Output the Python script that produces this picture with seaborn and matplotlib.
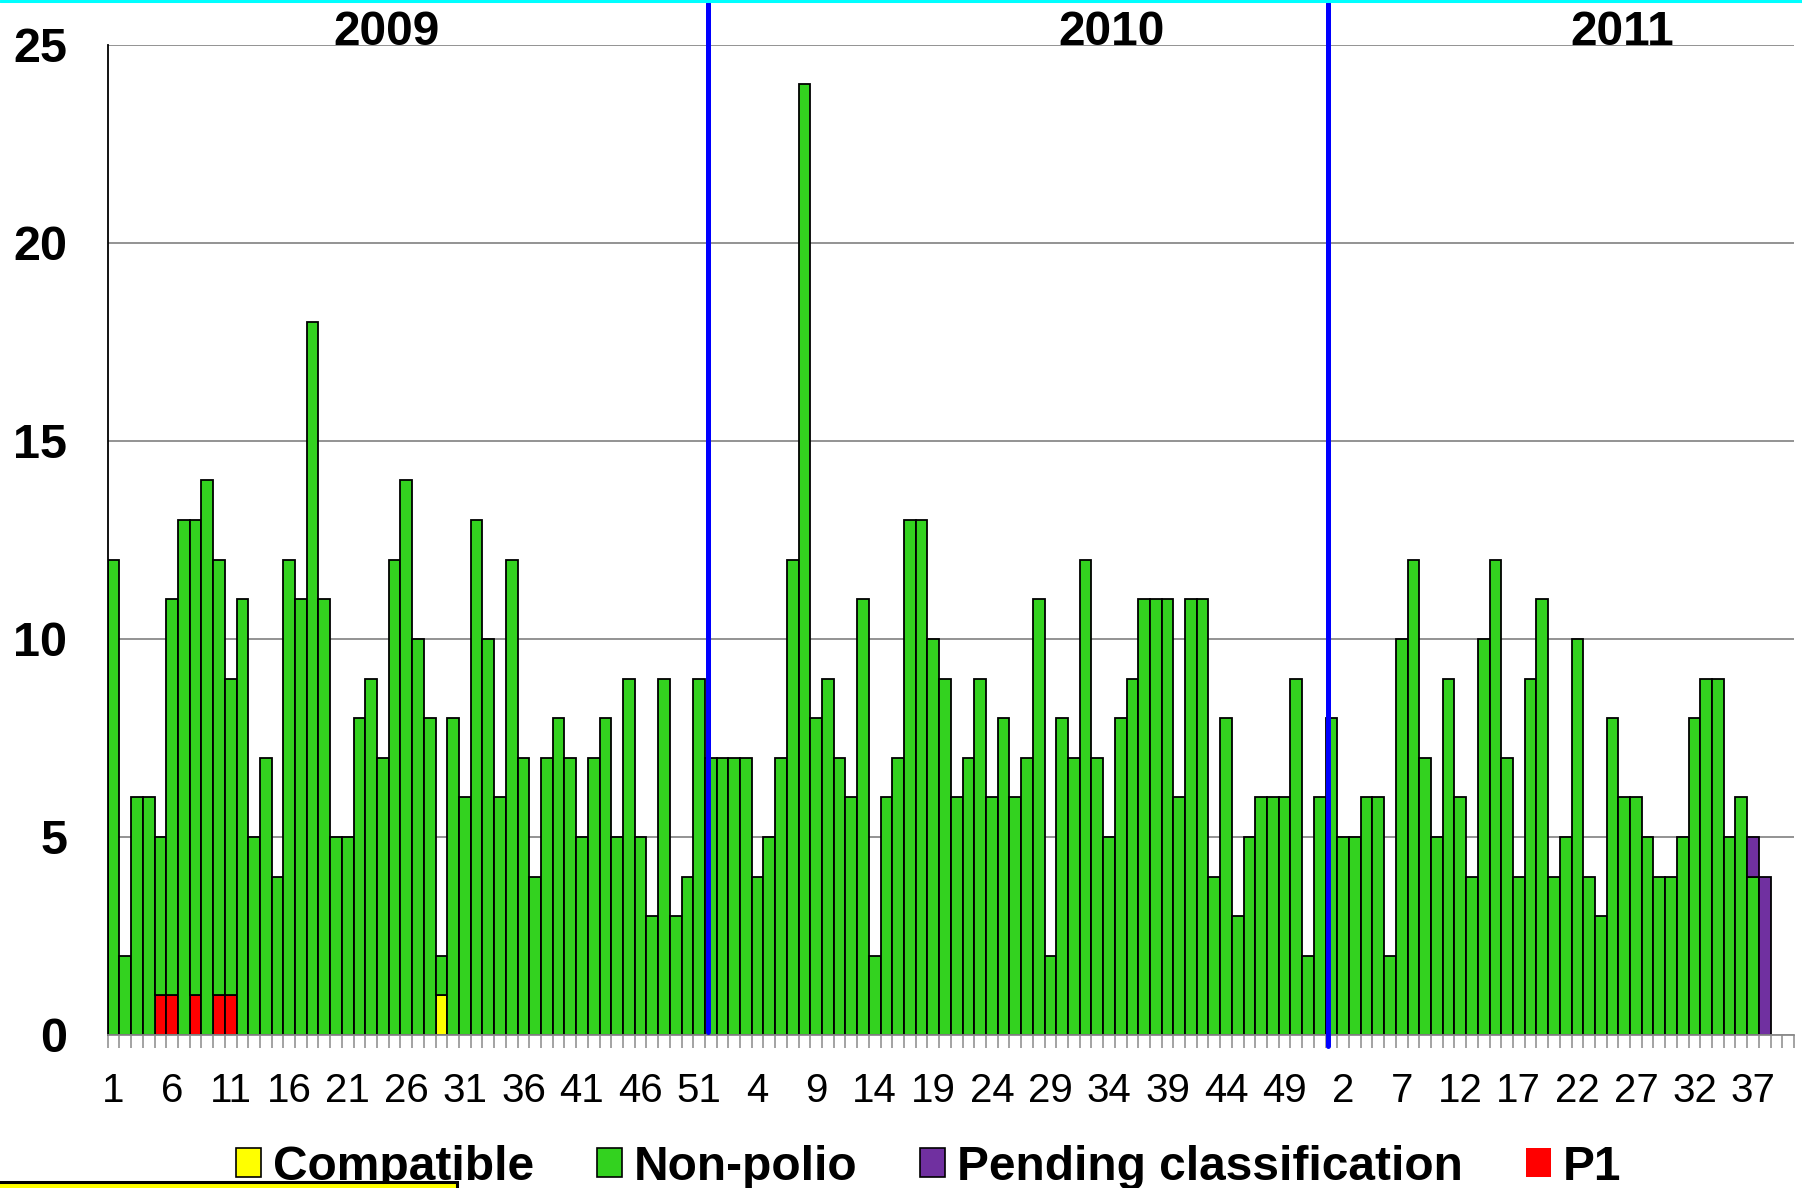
import numpy as np
import pandas as pd
import matplotlib
matplotlib.use("Agg")
import matplotlib.pyplot as plt
from matplotlib.patches import Patch, Rectangle
from matplotlib.lines import Line2D
import seaborn as sns

# ---------------- data ----------------
years = ["2009", "2010", "2011"]
weeks_2009 = list(range(1, 53))
weeks_2010 = list(range(1, 53))
weeks_2011 = list(range(1, 41))

nonpolio_2009 = [12, 2, 6, 6, 4, 10, 13, 12, 14, 11, 8, 11, 5, 7, 4, 12, 11, 18, 11, 5,
                 5, 8, 9, 7, 12, 14, 10, 8, 1, 8, 6, 13, 10, 6, 12, 7, 4, 7, 8, 7,
                 5, 7, 8, 5, 9, 5, 3, 9, 3, 4, 9, 7]
nonpolio_2010 = [7, 7, 7, 4, 5, 7, 12, 24, 8, 9, 7, 6, 11, 2, 6, 7, 13, 13, 10, 9,
                 6, 7, 9, 6, 8, 6, 7, 11, 2, 8, 7, 12, 7, 5, 8, 9, 11, 11, 11, 6,
                 11, 11, 4, 8, 3, 5, 6, 6, 6, 9, 2, 6]
nonpolio_2011 = [8, 5, 5, 6, 6, 2, 10, 12, 7, 5, 9, 6, 4, 10, 12, 7, 4, 9, 11, 4,
                 5, 10, 4, 3, 8, 6, 6, 5, 4, 4, 5, 8, 9, 9, 5, 6, 4, 0, 0, 0]

p1_weeks_2009 = [5, 6, 8, 10, 11]
p1_counts_2009 = [1, 1, 1, 1, 1]
compatible_weeks_2009 = [29]
compatible_counts_2009 = [1]
pending_weeks_2011 = [37, 38]
pending_counts_2011 = [1, 4]

classes = ["Compatible", "Non-polio", "Pending classification", "P1"]
colors = {"Compatible": "#FFFF00", "Non-polio": "#33D21F",
          "Pending classification": "#7030A0", "P1": "#FF0000"}

# ---------------- build long table ----------------
week_labels = [str(w) for w in weeks_2009 + weeks_2010 + weeks_2011]
n = len(week_labels)
off = {"2009": 0, "2010": len(weeks_2009), "2011": len(weeks_2009) + len(weeks_2010)}

rows = []
for yr, vals in zip(years, [nonpolio_2009, nonpolio_2010, nonpolio_2011]):
    for i, v in enumerate(vals):
        if v > 0:
            rows.append((off[yr] + i, v, "Non-polio"))
for w, c in zip(p1_weeks_2009, p1_counts_2009):
    rows.append((off["2009"] + w - 1, c, "P1"))
for w, c in zip(compatible_weeks_2009, compatible_counts_2009):
    rows.append((off["2009"] + w - 1, c, "Compatible"))
for w, c in zip(pending_weeks_2011, pending_counts_2011):
    rows.append((off["2011"] + w - 1, c, "Pending classification"))
df = pd.DataFrame(rows, columns=["pos", "count", "cls"])

# ---------------- plot ----------------
sns.set_theme(style="white")
plt.rcParams["font.family"] = ["Liberation Sans", "DejaVu Sans"]
plt.rcParams["text.color"] = "black"
plt.rcParams["axes.labelcolor"] = "black"
plt.rcParams["xtick.color"] = "black"
plt.rcParams["ytick.color"] = "black"

W, H = 1802, 1188
fig = plt.figure(figsize=(W / 100, H / 100), dpi=100)
ax = fig.add_axes([107.7 / W, (H - 1035) / H, (1794 - 107.7) / W, (1035 - 44.8) / H])

# stacking: last hue level at bottom
sns.histplot(data=df, x="pos", weights="count", hue="cls",
             hue_order=["Pending classification", "Non-polio", "Compatible", "P1"],
             palette=colors, multiple="stack", discrete=True, shrink=1,
             binrange=(0, n - 1), edgecolor="black", linewidth=1.3, alpha=1,
             legend=False, ax=ax)
for p in ax.patches:
    if p.get_height() == 0:
        p.set_visible(False)

ax.set_xlim(-0.5, n - 0.5)
ax.set_ylim(0, 25)
ax.set_xlabel("")
ax.set_ylabel("")
ax.set_axisbelow(True)
ax.yaxis.grid(True, color="#8a8a8a", linewidth=1.3)
ax.xaxis.grid(False)

ax.set_yticks([0, 5, 10, 15, 20, 25], labels=["0", "5", "10", "15", "20", "25"],
              fontsize=35, fontweight="bold", color="black")
ax.tick_params(axis="y", length=0, pad=29, left=False, labelcolor="black")

ax.set_xticks(np.arange(0, n, 5), labels=week_labels[::5], fontsize=29, color="black")
ax.set_xticks(np.arange(-0.5, n, 1), minor=True)
ax.tick_params(axis="x", which="major", length=0, pad=27, bottom=True, labelcolor="black")
ax.tick_params(axis="x", which="minor", length=9.4, width=1.1, color="#8a8a8a",
               direction="out", bottom=True)

for s in ["top", "right"]:
    ax.spines[s].set_visible(False)
ax.spines["left"].set_color("black")
ax.spines["left"].set_linewidth(1.3)
ax.spines["bottom"].set_color("#8a8a8a")
ax.spines["bottom"].set_linewidth(1.3)

# year dividers
ax.plot([50.8, 50.8], [26.05, 0.08], color="#0000FF", lw=3.6, clip_on=False, zorder=6)
ax.plot([103.7, 103.7], [26.05, -0.28], color="#0000FF", lw=3.6, clip_on=False, zorder=6)

# year labels
for x, t in zip([23.3, 85.2, 128.8], years):
    ax.text(x, 25, t, ha="center", va="baseline", fontsize=34.5,
            fontweight="bold", color="black", clip_on=False)

# legend
handles = [Patch(facecolor=colors[c], edgecolor=("none" if c == "P1" else "black"),
                 linewidth=1.2) for c in classes]
leg = fig.legend(handles, classes, loc="center left",
                 bbox_to_anchor=(236 / W, 1 - 1167 / H), ncol=4, frameon=False,
                 prop={"weight": "bold", "size": 34.5}, handlelength=0.53,
                 handleheight=0.53, handletextpad=0.25, columnspacing=1.3,
                 borderpad=0, borderaxespad=0)
for t in leg.get_texts():
    t.set_color("black")

# decorations
fig.add_artist(Line2D([0, 1], [1 - 1.3 / H, 1 - 1.3 / H], color="#00FFFF", lw=2.2,
                      transform=fig.transFigure))
fig.add_artist(Rectangle((-0.01, -0.02), 0.01 + 457 / W, 0.02 + (H - 1182) / H,
                         transform=fig.transFigure, facecolor="#FFFF00",
                         edgecolor="black", lw=2.2, zorder=10))

fig.savefig("out.png", dpi=100)
